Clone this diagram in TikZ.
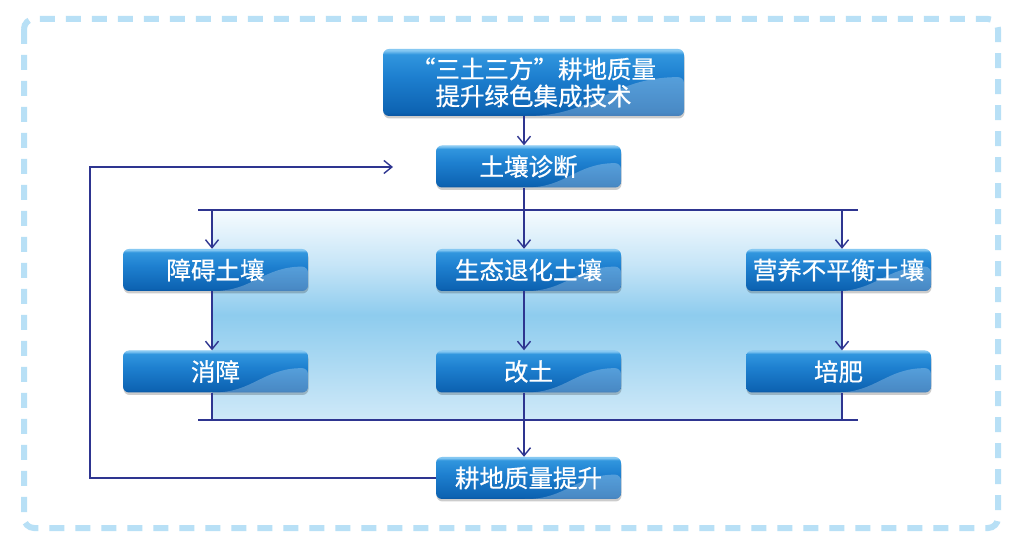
\documentclass[tikz,border=0pt]{standalone}
\usepackage{fontspec}
\setmainfont{Noto Sans CJK SC}
\newfontfamily\btnfont{Noto Sans CJK SC}[FakeBold=0.6]
\usetikzlibrary{arrows.meta,shadows,calc,backgrounds}
\definecolor{lineblue}{HTML}{2E3590}
\definecolor{dashblue}{HTML}{B8E0F6}
\definecolor{bA}{HTML}{0A56A2}
\definecolor{bB}{HTML}{0D63B2}
\definecolor{bC}{HTML}{1E80D0}
\definecolor{bD}{HTML}{3196DE}
\definecolor{bE}{HTML}{86C8F2}
\definecolor{pT}{HTML}{F6FBFE}
\definecolor{pU}{HTML}{C6E5F7}
\definecolor{pM}{HTML}{8ECCEE}
\definecolor{pB}{HTML}{CFE9F8}
\pgfdeclareverticalshading{btnshade}{100bp}{color(0bp)=(bA); color(25bp)=(bA); color(28bp)=(bB); color(55bp)=(bC); color(71bp)=(bD); color(74bp)=(bE); color(75bp)=(bE); color(100bp)=(bE)}
\pgfdeclareverticalshading{panelshade}{100bp}{color(0bp)=(pB); color(25bp)=(pB); color(50bp)=(pM); color(62bp)=(pU); color(75bp)=(pT); color(100bp)=(pT)}
\begin{document}
\begin{tikzpicture}[x=1pt,y=1pt,
  btn/.style={rounded corners=6pt, minimum width=185pt, minimum height=42pt,
    shading=btnshade, text=white, font=\btnfont\fontsize{24.5}{27}\selectfont,
    inner sep=0pt, align=center,
    drop shadow={shadow xshift=0.5pt, shadow yshift=-2.5pt, opacity=0.2, fill=black},
    path picture={
      \fill[white,opacity=0.25] let \p1=(path picture bounding box.south west),
        \p2=(path picture bounding box.north east), \p3=($(\p2)-(\p1)$) in
        (\x1+0.46*\x3,\y1) .. controls (\x1+0.7*\x3,\y1) and (\x1+0.76*\x3,\y1+0.58*\y3)
        .. (\x2,\y1+0.58*\y3) -- (\x2,\y1) -- cycle;
    }},
  conn/.style={draw=lineblue, line width=1.4pt},
  arr/.style={conn, -{Straight Barb[length=8pt,width=13pt]}}]
\useasboundingbox (0,0) rectangle (1024,559);
% column coordinates
\coordinate (x1) at (212,0);
\coordinate (x2) at (524,0);
\coordinate (x3) at (842,0);
\coordinate (busL) at (198,349);
\coordinate (busR) at (858,349);
\coordinate (busL2) at (198,139);
\coordinate (busR2) at (858,139);
\coordinate (fbL) at (90,0);
\coordinate (fbEnd) at (393,392);
% boxes
\node[btn, minimum width=301pt, minimum height=67pt] (top) at (533.5,476.5) {“三土三方”耕地质量\\提升绿色集成技术};
\node[btn] (diag) at (528.5,392.5) {土壤诊断};
\node[btn] (a1) at (215.5,289) {障碍土壤};
\node[btn] (b1) at (528.5,289) {生态退化土壤};
\node[btn] (c1) at (838.5,289) {营养不平衡土壤};
\node[btn] (a2) at (215.5,187.5) {消障};
\node[btn] (b2) at (528.5,187.5) {改土};
\node[btn] (c2) at (838.5,187.5) {培肥};
\node[btn] (fin) at (528.5,81) {耕地质量提升};
\begin{pgfonlayer}{background}
\fill[white] (0,0) rectangle (1024,559);
\draw[dashblue, line width=6pt, dash pattern=on 15pt off 11pt, rounded corners=10pt]
  (24,540) rectangle (998,31);
\shade[shading=panelshade] (x1 |- busL) rectangle (x3 |- busL2);
\end{pgfonlayer}
% connectors
\draw[arr] (top.south -| x2) -- (diag.north -| x2);
\draw[arr] (diag.south -| x2) -- (b1.north -| x2);
\draw[conn] (busL) -- (busR);
\draw[arr] (busL -| x1) -- (a1.north -| x1);
\draw[arr] (busL -| x3) -- (c1.north -| x3);
\draw[arr] (a1.south -| x1) -- (a2.north -| x1);
\draw[arr] (b1.south -| x2) -- (b2.north -| x2);
\draw[arr] (c1.south -| x3) -- (c2.north -| x3);
\draw[conn] (a2.south -| x1) -- (busL2 -| x1);
\draw[conn] (b2.south -| x2) -- (busL2 -| x2);
\draw[conn] (c2.south -| x3) -- (busL2 -| x3);
\draw[conn] (busL2) -- (busR2);
\draw[arr] (busL2 -| x2) -- (fin.north -| x2);
\draw[arr] (fin.west) -- (fin.west -| fbL) -- (fbL |- fbEnd) -- (fbEnd);
\end{tikzpicture}
\end{document}
